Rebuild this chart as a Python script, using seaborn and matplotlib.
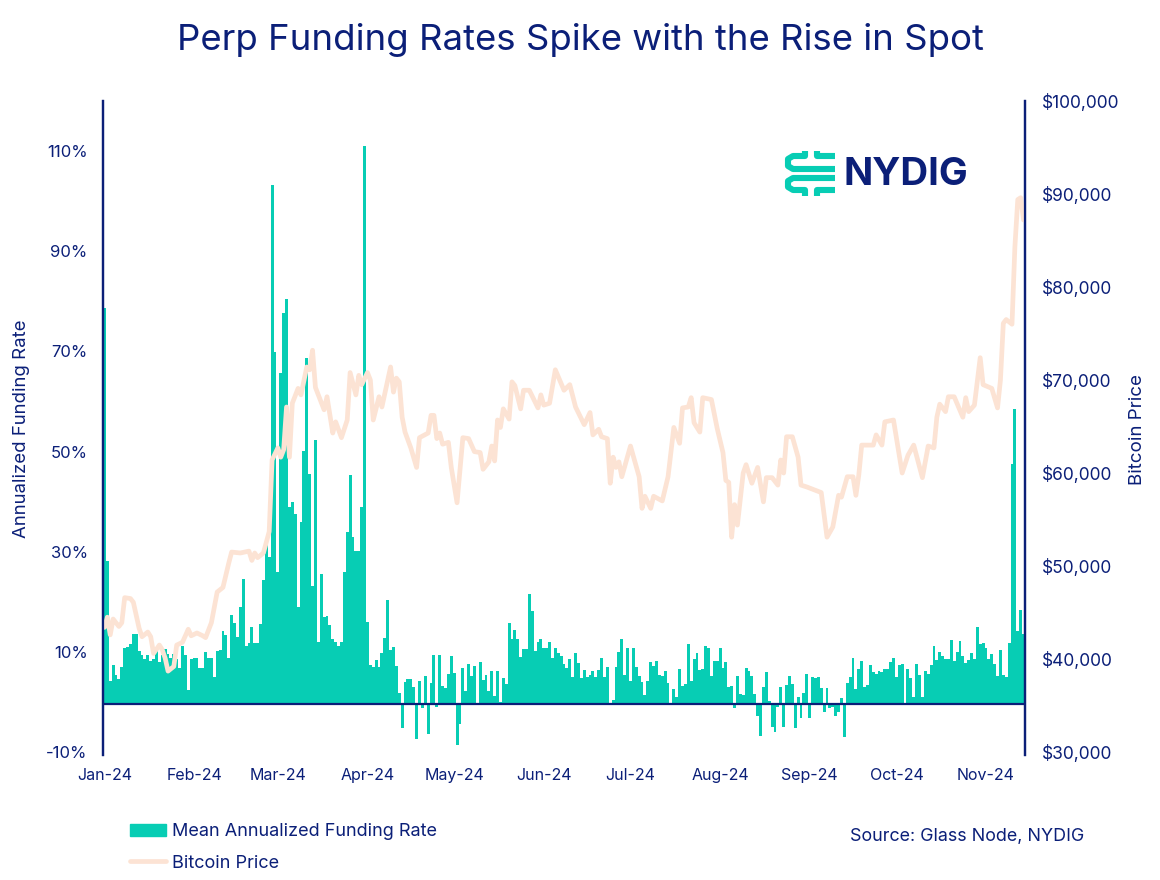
import numpy as np
import pandas as pd
import matplotlib
matplotlib.use('Agg')
import matplotlib.pyplot as plt
from matplotlib.lines import Line2D
from matplotlib.patches import Patch
from matplotlib.transforms import ScaledTranslation
import seaborn as sns

# ── Data ──────────────────────────────────────────────────────────────
funding = [
    79, 28.5, 4.5, 7.8, 5.8, 5, 7.3, 11.1, 11.3, 12, 14, 14, 10.6, 9.8, 8.9, 9.8, 8.6, 9, 10.9, 8.4,
    9.8, 10.9, 10, 9.1, 10, 9, 7.1, 11.6, 9.8, 2.8, 8.9, 9.1, 9.1, 7.1, 7.1, 10.3, 9.1, 9.1, 5.3, 10.6,
    10.8, 14.5, 13.8, 9.1, 17.8, 16.1, 13.3, 19.4, 25, 11.6, 12.2, 15.4, 12.2, 12.2, 16, 24.8, 33, 29.3, 103.6, 70.2,
    26.4, 66, 78, 80.8, 39.4, 40.4, 38, 19.4, 36.3, 50.6, 69, 46, 23.5, 52.7, 12.4, 25.9, 17.4, 17.6, 15.8, 12.9,
    12.4, 11.6, 12.3, 26.3, 34.4, 45.7, 33.4, 30.5, 30.5, 39.4, 111.5, 16.3, 7.8, 7.3, 8.8, 7.3, 10.1, 13.1, 20.8, 10.8,
    11.4, 7.5, 2.1, -4.7, 4.3, 4.9, 4.9, 3.3, -6.9, 4.5, -0.7, 5.6, -6, 4.1, 9.8, -0.6, 9.8, 3.5, 3.1, 6,
    9.6, 6.1, -8.2, -3.9, 7.1, 2.5, 8, 5.5, 7.6, 0.3, 8.3, 4.7, 5.8, 2.6, 6.5, 1.6, 6.6, 0.5, 5.1, 4,
    16.1, 12.9, 14.8, 12.9, 9.3, 10.9, 10.9, 22, 18.6, 10.6, 12.4, 13, 11.1, 11.1, 12.3, 9.1, 11.1, 10.2, 9.6, 8,
    7.1, 8.9, 5.3, 10.1, 8.1, 5.1, 6.7, 5.3, 5.7, 6.6, 5.3, 6.7, 9.1, 5.3, 7.3, 0, 0.8, 7.3, 10.3, 12.9,
    5.8, 11.2, 4.5, 11.1, 7.3, 5.5, 4.3, 1.8, 4.5, 8.3, 7.5, 8.5, 5.8, 5.5, 6.5, 4.1, 0, 2.9, 1.5, 6.9,
    3.5, 4, 11.9, 4.6, 8.9, 10.1, 6.8, 6.9, 11.6, 11.1, 5.5, 8.5, 8.5, 11.2, 7.2, 8.4, 3.4, 3.6, -0.7, 5.5,
    1.9, 1.7, 7.2, 6.5, 5.5, 2, -2.3, -6.3, 3.4, 6.4, 0.7, -4.5, -5.6, -0.5, 3.3, -4.5, 3.7, 5.5, 3.9, -4.7,
    1.4, -2.7, 2.1, 6, -2.7, 5.4, 5.1, 5.4, 3.2, -1.6, 3.2, -0.8, -0.5, -2.3, -1.5, 1.2, -6.5, 4.2, 5.4, 9.2,
    3, 6.9, 8.6, 3.4, 3.7, 7.7, 6.3, 6, 6.5, 6.3, 7, 6.9, 8.3, 9.2, 5.4, 7.7, 8, 0, 7, 5.2,
    1.4, 8, 5.7, 1.5, 6.5, 6, 7.7, 11.6, 8.8, 10.4, 9.6, 9, 9, 12.8, 8.6, 10.4, 12.5, 9.5, 8.2, 8.8,
    10.2, 9, 15.3, 12, 12.2, 11.2, 9, 10, 8, 5.5, 10.7, 5.7, 5.4, 12.2, 48, 58.9, 14.5, 18.7, 14,
]

price_days = [
    0, 1, 2, 3, 5, 6, 7, 9, 10, 12, 13, 15, 16, 17, 19, 20, 21, 22, 24, 25, 27, 29, 30, 32, 34, 35, 37, 39, 41, 43,
    44, 47, 50, 51, 52, 53, 55, 57, 58, 60, 61, 62, 63, 64, 65, 67, 68, 70, 71, 72, 73, 76, 77, 79, 80, 82, 84, 85, 87, 88,
    89, 91, 92, 93, 95, 96, 99, 100, 101, 102, 103, 104, 106, 108, 109, 112, 113, 114, 115, 116, 117, 119, 120, 122, 124, 126, 128, 130, 131, 133,
    134, 135, 136, 137, 138, 140, 141, 142, 144, 145, 147, 150, 151, 152, 154, 156, 159, 161, 163, 166, 168, 169, 171, 172, 174, 175, 176, 177, 178, 179,
    182, 185, 186, 187, 189, 190, 193, 195, 197, 199, 200, 202, 203, 204, 206, 207, 210, 212, 214, 215, 216, 217, 218, 219, 221, 222, 224, 226, 228, 229,
    231, 233, 234, 235, 236, 238, 240, 241, 243, 248, 250, 252, 254, 255, 257, 259, 260, 261, 262, 266, 267, 269, 270, 273, 276, 278, 280, 283, 285, 287,
    288, 289, 291, 292, 294, 297, 298, 299, 301, 303, 304, 307, 309, 310, 311, 312, 314, 315, 316, 317, 318,
]
price = [
    43400, 44500, 42600, 44300, 43500, 43900, 46600, 46500, 46100, 43300, 42400, 42900, 42400, 40600, 41500, 41000, 40100, 38700, 39200, 41500, 41800, 43200, 42500, 42800, 42500, 42300, 43900, 47200, 47700, 50300,
    51500, 51400, 51600, 50600, 51400, 50900, 51400, 53700, 61400, 62700, 61700, 62500, 67100, 61700, 67500, 69100, 68400, 71400, 71100, 73200, 69200, 66800, 68200, 64300, 65500, 63800, 65700, 70800, 68400, 70500,
    69500, 70800, 70000, 65700, 68200, 67100, 71400, 68700, 70200, 69800, 66000, 64400, 62700, 60600, 63800, 64300, 66200, 66200, 63700, 64300, 63100, 63300, 60600, 56800, 63800, 63700, 62300, 62200, 60400, 61200,
    62900, 61300, 65700, 64900, 66900, 65800, 69800, 69400, 66900, 68900, 68900, 67000, 68400, 67300, 67500, 71100, 68900, 69500, 67100, 65200, 66500, 64100, 64700, 63900, 63700, 58900, 61700, 60600, 61200, 59600,
    62900, 59600, 56200, 57500, 56200, 57500, 57000, 59600, 64900, 63200, 67000, 67100, 68100, 65400, 64400, 68100, 67900, 64800, 62200, 59200, 59000, 53100, 56600, 54400, 60000, 60900, 58900, 60600, 56900, 59500,
    59500, 58700, 61400, 60000, 63900, 63900, 61700, 58700, 58500, 57900, 53100, 54200, 57600, 57400, 59600, 59600, 57600, 59800, 63000, 63000, 64100, 63000, 65500, 65700, 60000, 61900, 63000, 59500, 62900, 62700,
    66000, 67400, 66600, 68200, 68200, 66000, 68100, 66600, 67300, 72400, 69500, 69100, 67000, 70000, 76100, 76500, 76000, 84300, 89400, 89600, 87200,
]

month_labels = ['Jan-24', 'Feb-24', 'Mar-24', 'Apr-24', 'May-24', 'Jun-24',
                'Jul-24', 'Aug-24', 'Sep-24', 'Oct-24', 'Nov-24']
month_days = [0, 31, 60, 91, 121, 152, 182, 213, 244, 274, 305]
funding_ticks = [-10, 10, 30, 50, 70, 90, 110]
price_ticks = [30000, 40000, 50000, 60000, 70000, 80000, 90000, 100000]

NAVY = '#0b1f78'
TEAL = '#07cdb4'
PEACH = '#fce3d4'

sns.set_theme(style='white')
plt.rcParams['font.family'] = ['Inter', 'DejaVu Sans']
plt.rcParams['text.color'] = NAVY

W, H = 1160, 880
fig = plt.figure(figsize=(W / 100, H / 100), dpi=100)
ax = fig.add_axes([103 / W, 1 - 755 / H, 922 / W, 654 / H])

# ── Funding bars ──────────────────────────────────────────────────────
days = np.arange(len(funding))
df = pd.DataFrame({'day': days, 'funding': funding})
sns.barplot(data=df, x='day', y='funding', native_scale=True, width=1,
            color=TEAL, saturation=1, linewidth=0, antialiased=False, ax=ax)
ax.set_xlim(-0.5, len(funding) - 0.5)
ax.axhline(0, color=NAVY, lw=1.6, zorder=5)

ax.set_xticks(month_days)
ax.set_xticklabels(month_labels, fontsize=11.5, color=NAVY)
ax.set_yticks(funding_ticks)
ax.set_yticklabels([f'{v}%' for v in funding_ticks], fontsize=12, color=NAVY)
ax.set_ylim(-10.18, 120.4)
ax.tick_params(axis='both', length=0)
ax.tick_params(axis='x', pad=9.5)
ax.tick_params(axis='y', pad=11)
ax.set_xlabel('')
ax.set_ylabel('')

# the percent labels sit 2px above their true height in the reference
shift_up = ScaledTranslation(0, 2 / 100, fig.dpi_scale_trans)
for lab in ax.get_yticklabels():
    lab.set_transform(lab.get_transform() + shift_up)

# ── Bitcoin price line ────────────────────────────────────────────────
ax2 = ax.twinx()
sns.lineplot(x=price_days, y=price, color=PEACH, lw=3.4, ax=ax2, errorbar=None)
ax2.set_yticks(price_ticks)
ax2.set_yticklabels([f'${v:,}' for v in price_ticks], fontsize=12.5, color=NAVY)
ax2.set_ylim(29680, 100000)
ax2.tick_params(axis='y', length=0, pad=12)
ax2.set_ylabel('')
ax2.grid(False)

for a in (ax, ax2):
    a.spines['top'].set_visible(False)
    a.spines['bottom'].set_visible(False)
    for side in ('left', 'right'):
        a.spines[side].set_color(NAVY)
        a.spines[side].set_linewidth(1.6)

# ── Text ──────────────────────────────────────────────────────────────
fig.text(580 / W, 1 - 40 / H, 'Perp Funding Rates Spike with the Rise in Spot',
         ha='center', va='center', fontsize=26.3, color=NAVY)
fig.text(22 / W, 1 - 429 / H, 'Annualized Funding Rate', rotation=90,
         ha='center', va='center', fontsize=13.4, color=NAVY)
fig.text(1137 / W, 1 - 429 / H, 'Bitcoin Price', rotation=90,
         ha='center', va='center', fontsize=13.5, color=NAVY)
fig.text(850 / W, 1 - 836 / H, 'Source: Glass Node, NYDIG',
         ha='left', va='center', fontsize=12.9, color=NAVY)

# ── Legend ────────────────────────────────────────────────────────────
handles = [Patch(color=TEAL), Line2D([0], [0], color=PEACH, lw=3.4)]
fig.legend(handles, ['Mean Annualized Funding Rate', 'Bitcoin Price'],
           loc='upper left', bbox_to_anchor=(114 / W, 1 - 807 / H),
           frameon=False, fontsize=13, handlelength=2.0, handletextpad=0.3,
           labelspacing=0.8, labelcolor=NAVY)

# ── Logo ──────────────────────────────────────────────────────────────
fig.text(844 / W, 1 - 175 / H, 'NYDIG', ha='left', va='center', fontsize=27.7,
         fontweight='bold', color=NAVY)
logo_paths = [
    [(835, 156), (817, 156), (817, 151)],
    [(805, 151), (805, 156), (793, 156), (788, 159), (788, 166), (793, 169), (835, 169)],
    [(835, 178), (793, 178), (788, 181), (788, 187), (793, 190), (805, 190), (805, 196)],
    [(835, 190), (817, 190), (817, 196)],
]
for path in logo_paths:
    xs = [p[0] / W for p in path]
    ys = [1 - p[1] / H for p in path]
    fig.add_artist(Line2D(xs, ys, color=TEAL, lw=4.4, solid_capstyle='butt',
                          solid_joinstyle='round', transform=fig.transFigure))

fig.savefig('out.png', dpi=100)
